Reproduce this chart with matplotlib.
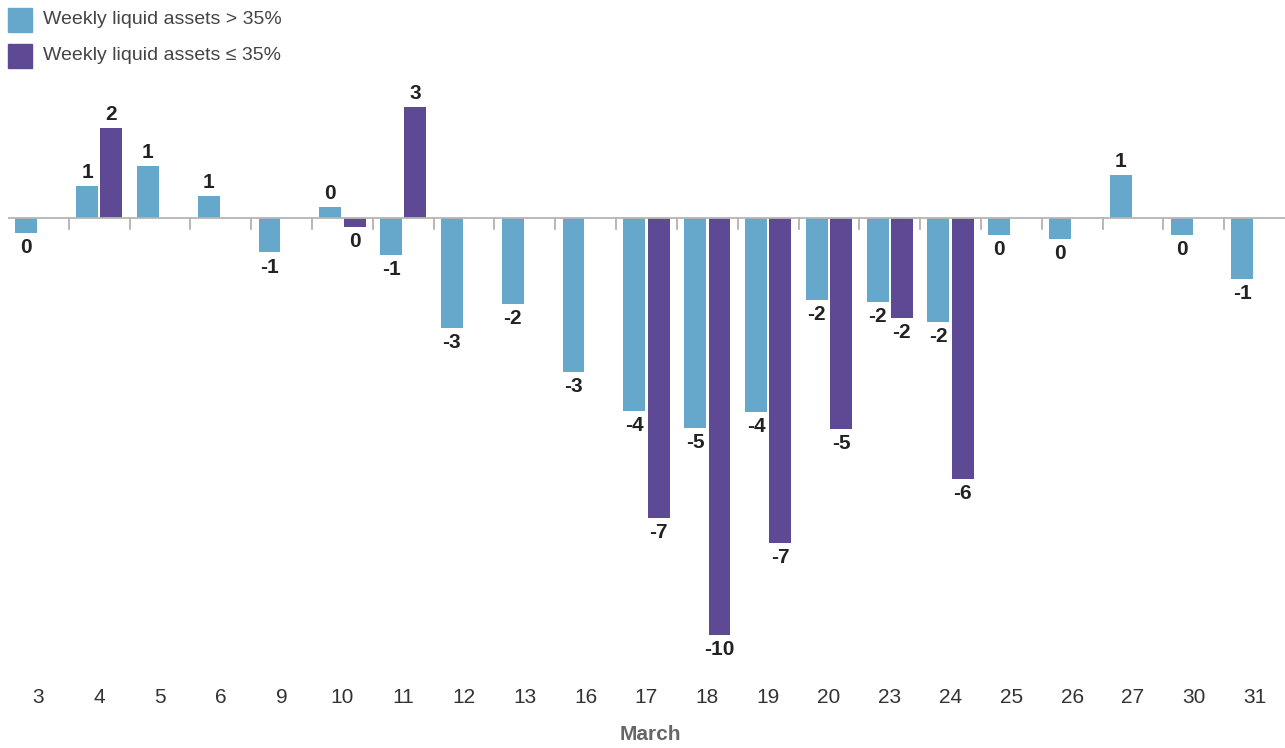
import numpy as np
import matplotlib
matplotlib.use("Agg")
import matplotlib.pyplot as plt
from matplotlib.patches import Rectangle

plt.rcParams['font.family'] = ['Liberation Sans Narrow', 'Liberation Sans', 'DejaVu Sans']

# data
days = ["3", "4", "5", "6", "9", "10", "11", "12", "13", "16", "17",
        "18", "19", "20", "23", "24", "25", "26", "27", "30", "31"]

high_wla = [-0.34, 0.72, 1.18, 0.49, -0.78, 0.24, -0.84, -2.50, -1.95, -3.50, -4.39,
            -4.77, -4.41, -1.86, -1.91, -2.36, -0.39, -0.48, 0.97, -0.39, -1.39]
high_lbl = ["0", "1", "1", "1", "-1", "0", "-1", "-3", "-2", "-3", "-4",
            "-5", "-4", "-2", "-2", "-2", "0", "0", "1", "0", "-1"]

low_days = ["4", "10", "11", "17", "18", "19", "20", "23", "24"]
low_wla = [2.04, -0.20, 2.52, -6.82, -9.48, -7.39, -4.80, -2.27, -5.93]
low_lbl = ["2", "0", "3", "-7", "-10", "-7", "-5", "-2", "-6"]

blue = "#66a8cc"
purple = "#5e4994"

fig = plt.figure(figsize=(12.85, 7.48), dpi=100)
ax = fig.add_axes([8 / 1285, 1 - 662.1 / 748, 1 - 8 / 1285, 572 / 748])

x = np.arange(len(days))
w = 0.36
off = 0.2

# blue bars
ax.bar(x - off, high_wla, w, color=blue, zorder=2)
# purple bars only where present
lx = np.array([days.index(d) for d in low_days])
ax.bar(lx + off, low_wla, w, color=purple, zorder=2)

def put_labels(xs, vals, labels):
    for xi, v, t in zip(xs, vals, labels):
        if v >= 0:
            ax.annotate(t, (xi, v), xytext=(0, 3), textcoords="offset points",
                        ha="center", va="bottom", fontsize=15, fontweight="bold", color="#222222")
        else:
            ax.annotate(t, (xi, v), xytext=(0, -4), textcoords="offset points",
                        ha="center", va="top", fontsize=15, fontweight="bold", color="#222222")

put_labels(x - off, high_wla, high_lbl)
put_labels(lx + off, low_wla, low_lbl)

ax.axhline(0, color="#b5b5b5", lw=1.3, zorder=3)
# small ticks between groups hanging under zero line
for b in np.arange(0.5, len(days) - 1, 1.0):
    ax.plot([b, b], [0, -0.25], color="#aaaaaa", lw=1.2, zorder=1)

ax.set_xlim(-0.5, len(days) - 0.5)
ax.set_ylim(-10.1, 2.9)
ax.set_yticks([])
ax.set_xticks(x)
ax.set_xticklabels(days, fontsize=15, color="#333333")
ax.tick_params(axis="x", length=0, pad=19)
for s in ax.spines.values():
    s.set_visible(False)

fig.text(650 / 1285, 1 - 735 / 748, "March", ha="center", va="center",
         fontsize=15, fontweight="bold", color="#666666")

# legend
leg = [(blue, "Weekly liquid assets > 35%", 20), (purple, "Weekly liquid assets \u2264 35%", 56)]
for c, t, yc in leg:
    fig.patches.append(Rectangle((8 / 1285, 1 - (yc + 12) / 748), 24 / 1285, 24 / 748,
                                 transform=fig.transFigure, color=c))
    fig.text(43 / 1285, 1 - yc / 748, t, ha="left", va="center", fontsize=14, color="#444444")

fig.savefig("out.png", dpi=100)
